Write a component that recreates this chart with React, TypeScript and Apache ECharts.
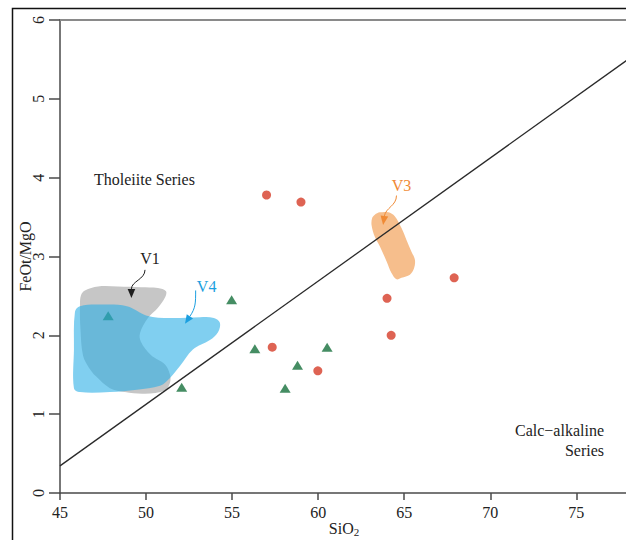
import React, { useEffect, useRef } from "react";
import * as echarts from "echarts";

// ---------- data ----------
const xTicks = [45, 50, 55, 60, 65, 70, 75];
const yTicks = [0, 1, 2, 3, 4, 5, 6];
const boundaryLine = [
  [45, 0.344],
  [78, 5.5],
];
const redCircles = [
  [57.0, 3.78],
  [59.0, 3.69],
  [57.33, 1.85],
  [59.98, 1.55],
  [64.0, 2.47],
  [64.24, 2.0],
  [67.9, 2.73],
];
const greenTriangles = [
  [47.8, 2.25],
  [52.07, 1.34],
  [54.97, 2.45],
  [56.32, 1.83],
  [58.8, 1.62],
  [60.52, 1.85],
  [58.08, 1.33],
];
const fieldV1 = [
  [46.22, 2.51], [46.45, 2.57], [47.21, 2.62], [48.37, 2.62], [49.7, 2.61],
  [50.69, 2.6], [51.16, 2.56], [51.1, 2.48], [50.69, 2.35], [50.11, 2.22],
  [49.65, 2.03], [49.7, 1.92], [50.28, 1.75], [51.1, 1.63], [51.39, 1.5],
  [51.39, 1.4], [51.1, 1.3], [49.94, 1.26], [48.77, 1.28], [47.9, 1.33],
  [47.09, 1.48], [46.68, 1.59], [46.34, 1.74], [46.19, 2.07], [46.16, 2.39],
];
const fieldV4 = [
  [45.87, 2.3], [46.16, 2.37], [47.32, 2.39], [48.89, 2.37], [50.05, 2.25],
  [51.39, 2.22], [53.13, 2.23], [53.94, 2.22], [54.29, 2.16], [54.18, 2.04],
  [53.71, 1.94], [52.72, 1.82], [51.97, 1.61], [51.39, 1.46], [50.81, 1.36],
  [49.47, 1.31], [47.9, 1.28], [46.16, 1.28], [45.81, 1.33], [45.81, 1.82],
];
const fieldV3 = [
  [63.29, 3.53], [63.58, 3.56], [64.07, 3.56], [64.45, 3.51], [64.84, 3.36],
  [65.13, 3.21], [65.42, 3.06], [65.62, 2.96], [65.57, 2.85], [65.33, 2.77],
  [64.84, 2.73], [64.55, 2.71], [64.26, 2.79], [63.97, 2.94], [63.58, 3.13],
  [63.29, 3.25], [63.1, 3.4], [63.14, 3.49],
];
const fieldNames = ["V1", "V4", "V3"];
const fieldLabelPos = [
  [50.23, 2.97],
  [53.52, 2.62],
  [64.84, 3.9],
];
const fieldArrowTips = [
  [49.15, 2.475],
  [52.26, 2.146],
  [63.77, 3.4],
];

// ---------- styles ----------
const FONT = '"Liberation Serif", "Times New Roman", serif';
const annotStyle = [
  { color: "#1e1e1e", start: [-5, 11], dir: [0, 1] },
  { color: "#1b9fe0", start: [-11, 4], dir: [-0.55, 0.83] },
  { color: "#f08a35", start: [-5, 10], dir: [-0.15, 1] },
];

function polySeries(pts: number[][], fill: string, z: number) {
  return {
    type: "custom",
    data: pts,
    z,
    silent: true,
    renderItem: (params: any, api: any) => {
      if (params.dataIndex !== 0) return null;
      return {
        type: "polygon",
        shape: { points: pts.map((p) => api.coord(p)), smooth: 0.35 },
        style: { fill },
      };
    },
  };
}

export default function App() {
  const ref = useRef<HTMLDivElement>(null);
  useEffect(() => {
    if (!ref.current) return;
    const chart = echarts.init(ref.current, null, { renderer: "svg" });
    const annotData = fieldLabelPos.map((p, i) => [p[0], p[1], fieldArrowTips[i][0], fieldArrowTips[i][1]]);
    const option: any = {
      animation: false,
      backgroundColor: "#ffffff",
      grid: { left: 60, top: 20, width: 568, height: 473, containLabel: false, outerBoundsMode: "none" },
      xAxis: [
        {
          type: "value",
          min: 45,
          max: 78,
          interval: 5,
          position: "bottom",
          axisLine: { show: true, onZero: false, lineStyle: { color: "#4a4a4a", width: 1.5 } },
          axisTick: { show: true, length: 7, customValues: xTicks, lineStyle: { color: "#4a4a4a", width: 1.5 } },
          axisLabel: {
            margin: 11,
            fontSize: 16,
            fontFamily: FONT,
            color: "#222",
            customValues: xTicks,
          },
          splitLine: { show: false },
          name: "SiO{sub|2}",
          nameLocation: "middle",
          nameGap: 27,
          nameMoveOverlap: false,
          nameTextStyle: {
            fontSize: 16,
            fontFamily: FONT,
            color: "#222",
            rich: { sub: { fontSize: 11, fontFamily: FONT, color: "#222", padding: [6, 0, 0, 0] } },
          },
        },
        {
          type: "value",
          min: 45,
          max: 78,
          position: "top",
          axisLine: { show: true, onZero: false, lineStyle: { color: "#8a8a8a", width: 2 } },
          axisTick: { show: false },
          axisLabel: { show: false },
          splitLine: { show: false },
        },
      ],
      yAxis: {
        type: "value",
        min: 0,
        max: 6,
        interval: 1,
        axisLine: { show: true, onZero: false, lineStyle: { color: "#4a4a4a", width: 1.5 } },
        axisTick: { show: true, length: 11, customValues: yTicks, lineStyle: { color: "#4a4a4a", width: 1.5 } },
        axisLabel: { rotate: 90, margin: 14, fontSize: 16, fontFamily: FONT, color: "#222", customValues: yTicks },
        splitLine: { show: false },
        name: "FeOt/MgO",
        nameLocation: "middle",
        nameRotate: 90,
        nameGap: 27,
        nameMoveOverlap: false,
        nameTextStyle: { fontSize: 16, fontFamily: FONT, color: "#222" },
      },
      graphic: [
        {
          type: "polyline",
          shape: { points: [[12.5, 545], [12.5, 8.5], [630, 8.5]] },
          style: { stroke: "#111", lineWidth: 1.5, fill: null },
          silent: true,
        },
        {
          type: "text",
          x: 94,
          y: 179,
          style: { text: "Tholeiite Series", fontSize: 16, fontFamily: FONT, fill: "#222", verticalAlign: "middle" },
        },
        {
          type: "text",
          x: 604,
          y: 430,
          style: { text: "Calc\u2212alkaline", fontSize: 16, fontFamily: FONT, fill: "#222", align: "right", verticalAlign: "middle" },
        },
        {
          type: "text",
          x: 604,
          y: 450,
          style: { text: "Series", fontSize: 16, fontFamily: FONT, fill: "#222", align: "right", verticalAlign: "middle" },
        },
      ],
      series: [
        polySeries(fieldV1, "#c6c6c6", 1),
        {
          type: "scatter",
          data: greenTriangles,
          symbol: "triangle",
          symbolSize: [11, 9],
          itemStyle: { color: "#17703c" },
          z: 2,
          silent: true,
        },
        polySeries(fieldV4, "rgba(43,175,230,0.6)", 3),
        polySeries(fieldV3, "#f6be8c", 3),
        {
          type: "line",
          data: boundaryLine,
          symbol: "none",
          lineStyle: { color: "#2a2a2a", width: 1.3 },
          z: 4,
          silent: true,
        },
        {
          type: "scatter",
          data: redCircles,
          symbol: "circle",
          symbolSize: 9,
          itemStyle: { color: "#d63c28" },
          z: 5,
          silent: true,
        },
        {
          type: "custom",
          data: annotData,
          z: 6,
          silent: true,
          renderItem: (params: any, api: any) => {
            const i = params.dataIndex;
            const st = annotStyle[i];
            const t = api.coord([api.value(0), api.value(1)]);
            const tip = api.coord([api.value(2), api.value(3)]);
            const s = [t[0] + st.start[0], t[1] + st.start[1]];
            const d = st.dir;
            const hl = 9;
            const hw = 3.8;
            const e = [tip[0] - d[0] * hl, tip[1] - d[1] * hl];
            const my = (s[1] + e[1]) / 2;
            const cp2 = [e[0] - d[0] * (e[1] - s[1]) * 0.4, e[1] - d[1] * (e[1] - s[1]) * 0.4];
            const nx = -d[1];
            const ny = d[0];
            return {
              type: "group",
              children: [
                {
                  type: "text",
                  style: {
                    text: fieldNames[i],
                    x: t[0],
                    y: t[1],
                    align: "center",
                    verticalAlign: "middle",
                    fontSize: 16,
                    fontFamily: FONT,
                    fill: st.color,
                  },
                },
                {
                  type: "bezierCurve",
                  shape: { x1: s[0], y1: s[1], cpx1: s[0], cpy1: my, cpx2: cp2[0], cpy2: cp2[1], x2: e[0], y2: e[1] },
                  style: { stroke: st.color, lineWidth: 1, fill: null },
                },
                {
                  type: "polygon",
                  shape: {
                    points: [
                      [tip[0], tip[1]],
                      [e[0] + nx * hw, e[1] + ny * hw],
                      [e[0] - nx * hw, e[1] - ny * hw],
                    ],
                  },
                  style: { fill: st.color },
                },
              ],
            };
          },
        },
      ],
    };
    chart.setOption(option);
    return () => chart.dispose();
  }, []);
  return (
    <div style={{ position: "fixed", left: 0, top: 0, width: 626, height: 540, overflow: "hidden", background: "#fff" }}>
      <div ref={ref} style={{ width: 626, height: 540 }} />
    </div>
  );
}
